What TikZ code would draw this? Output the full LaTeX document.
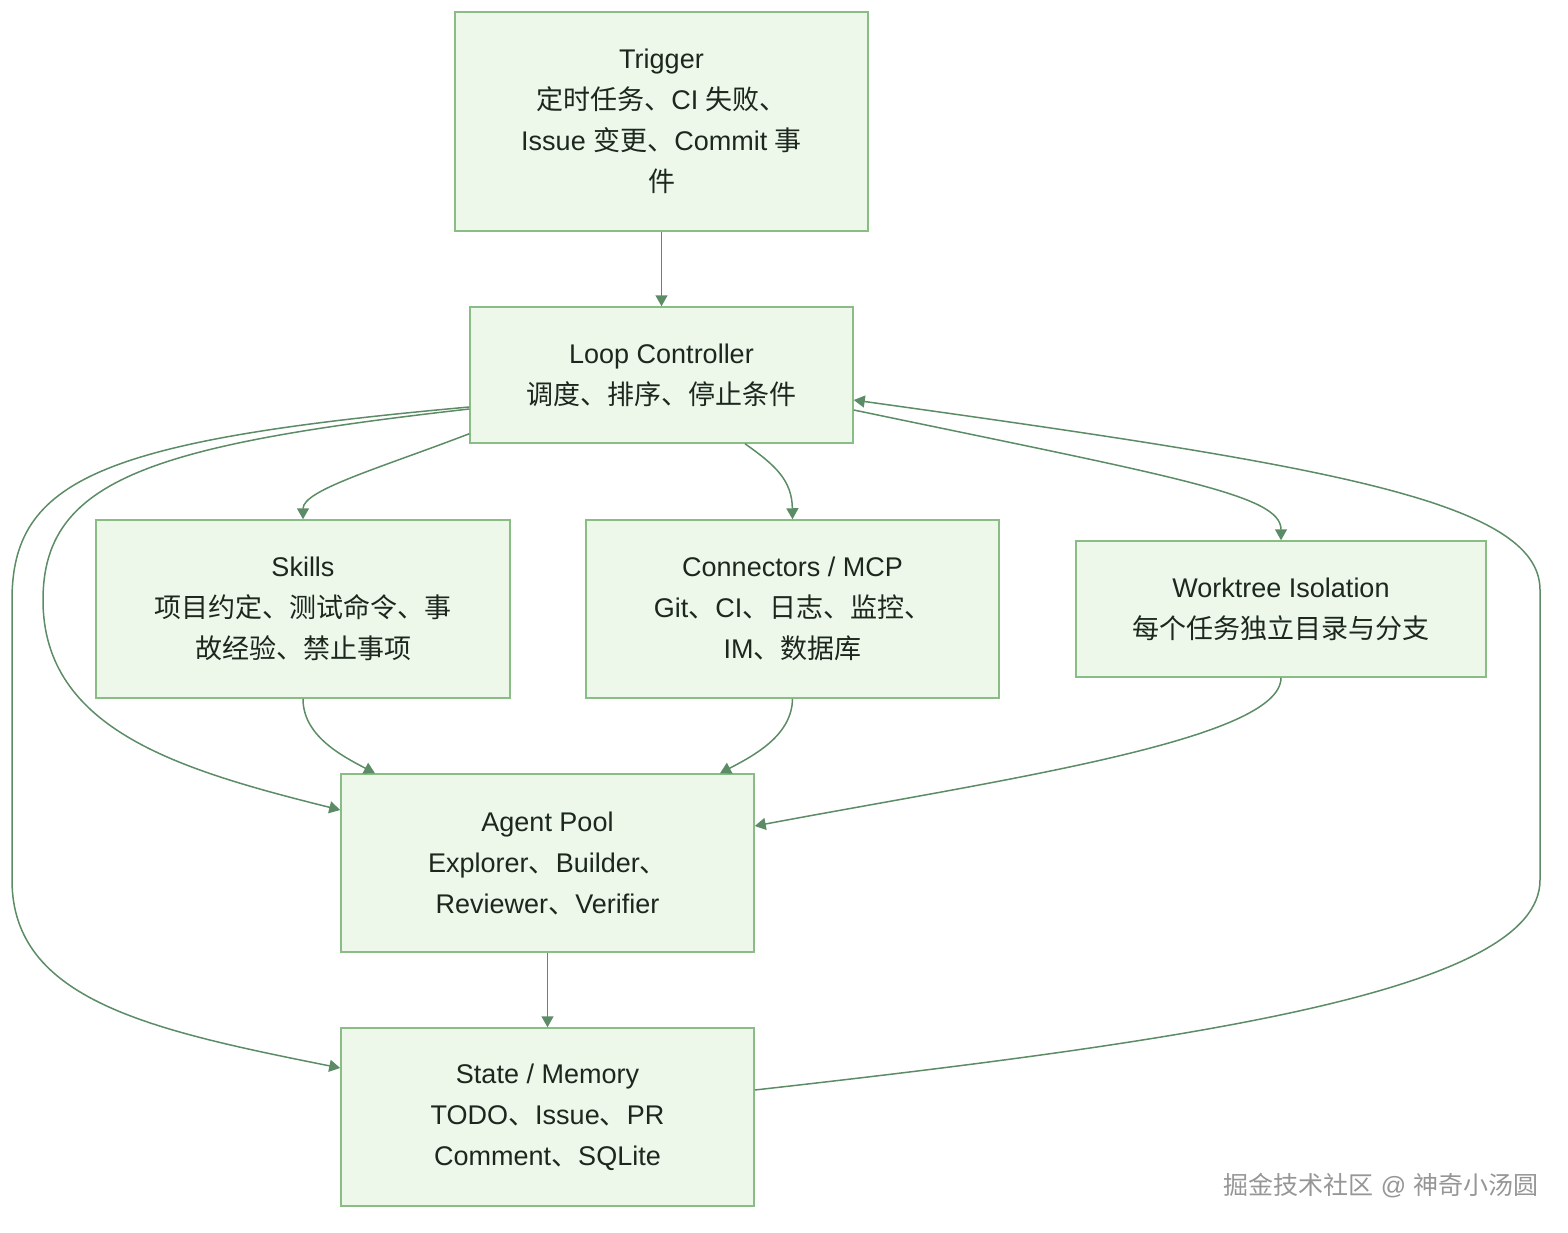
\documentclass[tikz,border=0pt]{standalone}
\usepackage{fontspec}
\setmainfont{Liberation Sans}
\newfontfamily\cjk{Noto Sans CJK SC}
\usetikzlibrary{arrows.meta}
\definecolor{edgec}{RGB}{92,140,102}
\definecolor{boxline}{RGB}{138,188,134}
\definecolor{boxfill}{RGB}{237,248,235}
\definecolor{txt}{RGB}{28,40,30}
\definecolor{wm}{RGB}{150,150,150}
\tikzset{
  box/.style={draw=boxline, line width=0.75pt, fill=boxfill, rectangle, inner sep=0pt,
    align=center, text=txt, font=\fontsize{13.5}{20.5}\selectfont},
  arr/.style={draw=edgec, line width=0.75pt, -{Triangle[length=5.5pt,width=6pt]}},
}
\begin{document}
\begin{tikzpicture}[x=0.5pt,y=-0.5pt]
\useasboundingbox (0,0) rectangle (1568,1232);

\node[box, minimum width=206.5pt, minimum height=109.5pt] (trig) at (661.5,121.5)
  {Trigger\\{\cjk 定时任务、}CI {\cjk 失败、}\\Issue {\cjk 变更、}Commit {\cjk 事}\\{\cjk 件}};
\node[box, minimum width=191.5pt, minimum height=68pt] (loop) at (661.5,375)
  {Loop Controller\\{\cjk 调度、排序、停止条件}};
\node[box, minimum width=207pt, minimum height=89pt] (skills) at (303,609)
  {Skills\\{\cjk 项目约定、测试命令、事}\\{\cjk 故经验、禁止事项}};
\node[box, minimum width=206.5pt, minimum height=89pt] (conn) at (792.5,609)
  {Connectors / MCP\\Git{\cjk 、}CI{\cjk 、日志、监控、}\\IM{\cjk 、数据库}};
\node[box, minimum width=205pt, minimum height=68pt] (work) at (1281,609)
  {Worktree Isolation\\{\cjk 每个任务独立目录与分支}};
\node[box, minimum width=206.5pt, minimum height=89pt] (agent) at (547.5,863)
  {Agent Pool\\Explorer{\cjk 、}Builder{\cjk 、}\\Reviewer{\cjk 、}Verifier};
\node[box, minimum width=206.5pt, minimum height=89pt] (state) at (547.5,1117)
  {State / Memory\\TODO{\cjk 、}Issue{\cjk 、}PR\\Comment{\cjk 、}SQLite};

\node[text=wm, font=\fontsize{12.5}{15}\selectfont] (mark) at (1381,1186)
  {{\cjk 掘金技术社区} @ {\cjk 神奇小汤圆}};

% connectors
\draw[arr] (trig.south) -- (loop.north);
\draw[arr] ([yshift=5pt]loop.south west) .. controls (380,468) and (303,490) .. (skills.north);
\draw[arr] ([xshift=41.75pt]loop.south) .. controls (775,465) and (792,480) .. (conn.north);
\draw[arr] ([yshift=-17.5pt]loop.east) .. controls (1180,478) and (1281,495) .. (work.north);
\draw[arr] ([yshift=-17pt]loop.west) .. controls (150,445) and (43,480) .. (43,600)
  .. controls (43,730) and (180,770) .. ([yshift=26.5pt]agent.west);
\draw[arr] ([yshift=-16pt]loop.west) .. controls (100,440) and (12,480) .. (12,600)
  -- (12,880) .. controls (12,1000) and (150,1030) .. ([yshift=24.5pt]state.west);
\draw[arr] (skills.south) .. controls (303,735) and (340,755) .. ([xshift=-86.25pt]agent.north);
\draw[arr] (conn.south) .. controls (792,735) and (755,755) .. ([xshift=86.25pt]agent.north);
\draw[arr] (work.south) .. controls (1281,740) and (1000,780) .. ([yshift=18.5pt]agent.east);
\draw[arr] (agent.south) -- (state.north);
\draw[arr] ([yshift=13.5pt]state.east) .. controls (1200,1040) and (1540,990) .. (1540,880)
  -- (1540,590) .. controls (1540,500) and (1320,465) .. ([yshift=-12.5pt]loop.east);
\end{tikzpicture}
\end{document}
